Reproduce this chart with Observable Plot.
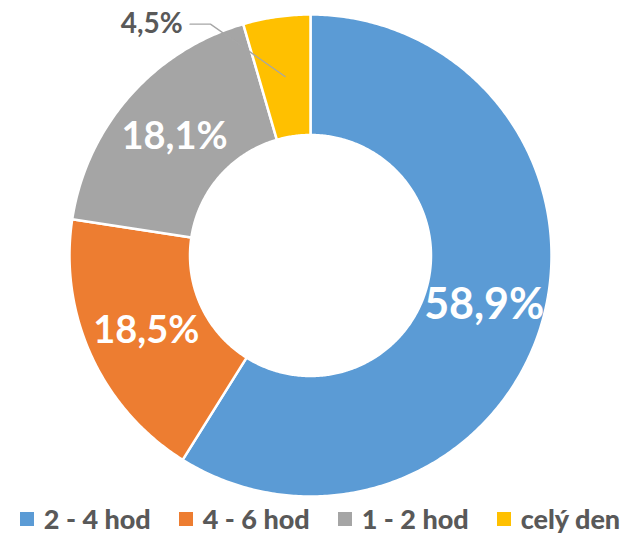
<!DOCTYPE html>
<html>
<head>
<meta charset="utf-8">
<script src="https://cdn.jsdelivr.net/npm/d3@7"></script>
<script src="https://cdn.jsdelivr.net/npm/@observablehq/plot@0.6"></script>
<style>
  html, body { margin: 0; padding: 0; background: #fff; overflow: hidden; }
  #chart { width: 640px; }
  .lg { display: flex; justify-content: center; align-items: center; font-family: Lato, "Open Sans", sans-serif; font-weight: 900; font-size: 27px; line-height: 30px; color: #595959; height: 36px; padding-top: 2px; box-sizing: border-box; white-space: nowrap; }
  .lg span.item { display: inline-flex; align-items: center; margin: 0 14px; }
  .lg span.sw { width: 14px; height: 14px; display: inline-block; margin-right: 10px; }
</style>
</head>
<body>
<div id="chart"></div>
<script>
const categories = ["2 - 4 hod", "4 - 6 hod", "1 - 2 hod", "celý den"];
const values = [58.9, 18.5, 18.1, 4.5];
const labels = ["58,9%", "18,5%", "18,1%", "4,5%"];
const colors = ["#5B9BD5", "#ED7D31", "#A5A5A5", "#FFC000"];

const W = 640, H = 500;
const cx = 310, cy = 255, R = 241;
const innerFrac = 0.5;

const total = d3.sum(values);
let acc = 0;
const slices = values.map((v, i) => {
  const a0 = acc / total * 2 * Math.PI;
  acc += v;
  const a1 = acc / total * 2 * Math.PI;
  return {i, cat: categories[i], value: v, label: labels[i], a0, a1, mid: (a0 + a1) / 2};
});

const pt = (a, r) => [Math.sin(a) * r, Math.cos(a) * r];
function ring(s) {
  const n = Math.max(8, Math.ceil((s.a1 - s.a0) / 0.01));
  const outer = d3.range(n + 1).map(k => pt(s.a0 + (s.a1 - s.a0) * k / n, 1));
  const inner = d3.range(n + 1).map(k => pt(s.a1 - (s.a1 - s.a0) * k / n, innerFrac));
  const coords = [...outer, ...inner, outer[0]];
  return {type: "Feature", properties: s, geometry: {type: "Polygon", coordinates: [coords]}};
}
const features = slices.map(ring);

const midR = (1 + innerFrac) / 2;
const inside = slices.filter(s => s.value > 10).map(s => {
  const [x, y] = pt(s.mid, midR);
  return {...s, x, y};
});
const small = slices.filter(s => s.value <= 10);
const leaderFeatures = small.map(s => {
  const p0 = pt(s.mid, midR);
  return {type: "Feature", properties: s, geometry: {type: "LineString", coordinates: [p0, [-0.415, 0.96], [-0.5, 0.96]]}};
});
const outside = small.map(s => ({...s, x: -0.53, y: 0.96}));

const projection = d3.geoIdentity().reflectY(true).scale(R).translate([cx, cy]);

const chart = Plot.plot({
  width: W,
  height: H,
  margin: 0,
  projection,
  style: {fontFamily: "Lato, 'Open Sans', sans-serif", background: "#fff"},
  marks: [
    Plot.geo(features, {fill: d => colors[d.properties.i], stroke: "#fff", strokeWidth: 2.5}),
    Plot.geo(leaderFeatures, {stroke: "#A6A6A6", strokeWidth: 1.3, fill: "none"}),
    Plot.text(inside, {x: "x", y: "y", text: "label", fill: "#fff", fontWeight: "bold",
      fontSize: d => d.value > 50 ? 43 : 38}),
    Plot.text(outside, {x: "x", y: "y", text: "label", fill: "#595959", fontWeight: "bold", fontSize: 28, textAnchor: "end"})
  ]
});
document.getElementById("chart").appendChild(chart);

const lg = document.createElement("div");
lg.className = "lg";
categories.forEach((c, i) => {
  const it = document.createElement("span");
  it.className = "item";
  const sw = document.createElement("span");
  sw.className = "sw";
  sw.style.background = colors[i];
  it.appendChild(sw);
  it.appendChild(document.createTextNode(c));
  lg.appendChild(it);
});
document.getElementById("chart").appendChild(lg);
</script>
</body>
</html>
